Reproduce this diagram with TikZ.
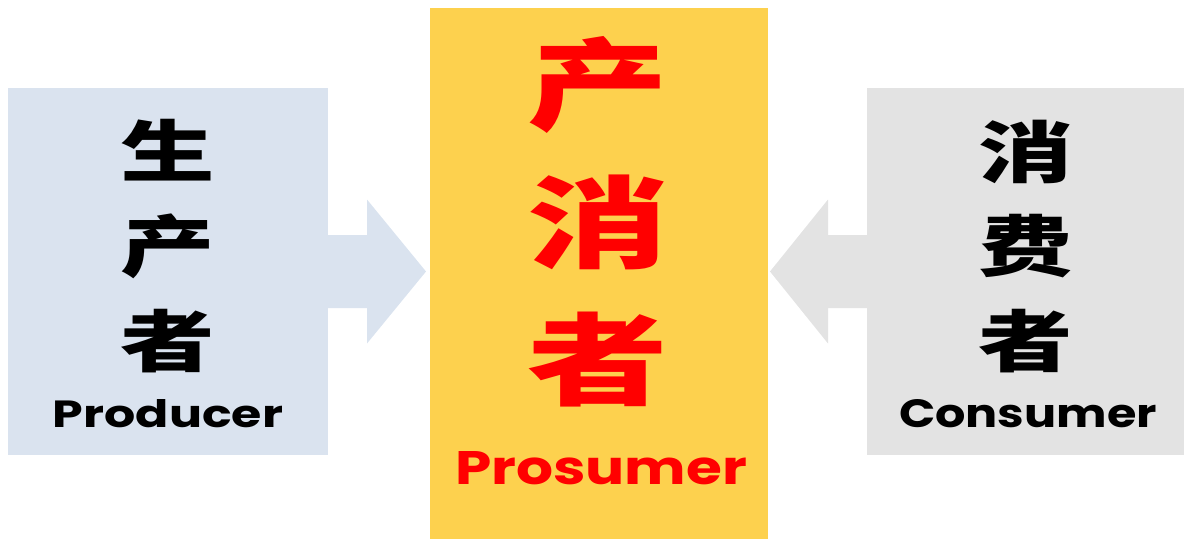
\documentclass[tikz,border=0pt]{standalone}
\usepackage{fontspec}
\usepackage{graphicx}
\newfontfamily\cjk{Noto Sans CJK SC}
\newfontfamily\pop{Poppins}
\usetikzlibrary{calc}
\definecolor{boxblue}{HTML}{DAE3EF}
\definecolor{boxgrey}{HTML}{E3E3E3}
\definecolor{boxgold}{HTML}{FDD14E}
\definecolor{txtred}{HTML}{FF0000}
\tikzset{
  panel/.style={inner sep=0pt, outer sep=0pt, draw=none},
  smallhan/.style={inner sep=0pt, font=\cjk\bfseries\fontsize{67}{67}\selectfont},
  bighan/.style={inner sep=0pt, text=txtred, font=\cjk\bfseries\fontsize{100}{100}\selectfont},
  engl/.style={inner sep=0pt, anchor=base, font=\pop\bfseries\fontsize{38}{38}\selectfont},
}
\newcommand{\wideh}[1]{\scalebox{1.41}[1]{#1}}
\begin{document}
\begin{tikzpicture}[x=1pt,y=-1pt]
\useasboundingbox (0,0) rectangle (1184,539);
% panels
\node[panel, fill=boxblue, minimum width=320pt, minimum height=367pt] (L) at (168,271.5) {};
\node[panel, fill=boxgold, minimum width=338pt, minimum height=531pt] (M) at (599,273.5) {};
\node[panel, fill=boxgrey, minimum width=318pt, minimum height=367pt] (R) at (1026,271.5) {};
% arrows
\fill[boxblue] ($(L.east)+(0,-36.5)$) -- ($(L.east)+(39,-36.5)$) -- ($(L.east)+(39,-72)$)
  -- ($(M.west |- L.east)+(-4,0)$) -- ($(L.east)+(39,72)$) -- ($(L.east)+(39,36.5)$)
  -- ($(L.east)+(0,36.5)$) -- cycle;
\fill[boxgrey] ($(R.west)+(0,-36.5)$) -- ($(R.west)+(-39,-36.5)$) -- ($(R.west)+(-39,-72)$)
  -- ($(M.east |- R.west)+(2,0)$) -- ($(R.west)+(-39,72)$) -- ($(R.west)+(-39,36.5)$)
  -- ($(R.west)+(0,36.5)$) -- cycle;
% left texts
\node[smallhan] (l1) at (168,150) {\wideh{生}};
\node[smallhan] (l2) at (168,246) {\wideh{产}};
\node[smallhan] (l3) at (168,341) {\wideh{者}};
\node[engl] (l4) at (168,427) {\resizebox{230pt}{28pt}{Producer}};
% middle texts
\node[bighan] (m1) at (598,85) {\wideh{产}};
\node[bighan] (m2) at (598,222) {\wideh{消}};
\node[bighan] (m3) at (598,360) {\wideh{者}};
\node[engl, text=txtred] (m4) at (601,484) {\resizebox{292pt}{33pt}{Prosumer}};
% right texts
\node[smallhan] (r1) at (1026,152) {\wideh{消}};
\node[smallhan] (r2) at (1026,246) {\wideh{费}};
\node[smallhan] (r3) at (1026,341) {\wideh{者}};
\node[engl] (r4) at (1028,427) {\resizebox{258pt}{28pt}{Consumer}};
\end{tikzpicture}
\end{document}
